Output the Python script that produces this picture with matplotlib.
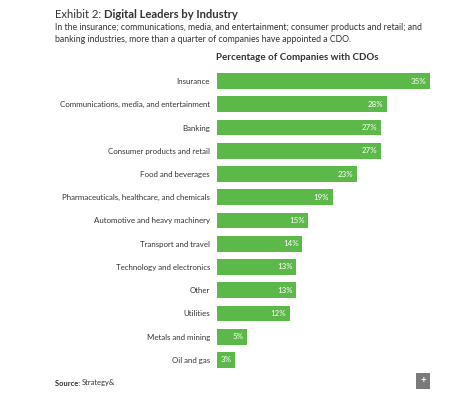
import matplotlib.pyplot as plt

plt.rcParams['font.family'] = ['Lato', 'DejaVu Sans']

industries = [
    "Insurance",
    "Communications, media, and entertainment",
    "Banking",
    "Consumer products and retail",
    "Food and beverages",
    "Pharmaceuticals, healthcare, and chemicals",
    "Automotive and heavy machinery",
    "Transport and travel",
    "Technology and electronics",
    "Other",
    "Utilities",
    "Metals and mining",
    "Oil and gas",
]
shares = [35, 28, 27, 27, 23, 19, 15, 14, 13, 13, 12, 5, 3]

GREEN = '#5cb848'
TEXT = '#333333'

W, H = 456, 393
fig = plt.figure(figsize=(W / 100, H / 100), dpi=100)
renderer = fig.canvas.get_renderer()


def fx(px):
    return px / W


def fy(py):
    return 1 - py / H


def two_part(x, y, first, second, size, first_bold=False):
    # two runs of text on one line, one of them bold
    w1 = 'bold' if first_bold else 'normal'
    w2 = 'normal' if first_bold else 'bold'
    t = fig.text(fx(x), fy(y), first, fontsize=size, color=TEXT, va='center', fontweight=w1)
    bb = t.get_window_extent(renderer=renderer)
    fig.text(bb.x1 / W, fy(y), second, fontsize=size, color=TEXT, va='center', fontweight=w2)


# header
two_part(55, 14, "Exhibit 2:\u00a0", "Digital Leaders by Industry", 8.1)
fig.text(fx(55), fy(28), "In the insurance; communications, media, and entertainment; consumer products and retail; and",
         fontsize=6.3, color=TEXT, va='center')
fig.text(fx(55), fy(40), "banking industries, more than a quarter of companies have appointed a CDO.",
         fontsize=6.3, color=TEXT, va='center')

ax = fig.add_axes([fx(217), fy(371.6), fx(430) - fx(217), (371.6 - 69.4) / H])
ypos = range(len(industries))
ax.barh(ypos, shares, height=0.68, color=GREEN)
ax.set_xlim(0, 35)
ax.set_ylim(len(industries) - 0.5, -0.5)
ax.set_yticks(list(ypos))
ax.set_yticklabels(industries, fontsize=5.7, color=TEXT)
ax.tick_params(axis='y', length=0, pad=5)
ax.set_xticks([])
for s in ax.spines.values():
    s.set_visible(False)

for i, v in enumerate(shares):
    ax.text(v - 0.6, i, f"{v}%", ha='right', va='center', color='white', fontsize=5.7)

fig.text(fx(297), fy(57), "Percentage of Companies with CDOs", ha='center', va='center',
         fontsize=7, fontweight='bold', color=TEXT)

two_part(55, 383, "Source:\u00a0", "Strategy&", 5.4, first_bold=True)

# expand button
btn = fig.add_axes([fx(416), fy(389), fx(14), 16 / H])
btn.set_facecolor('#7a7a7a')
btn.set_xticks([])
btn.set_yticks([])
for s in btn.spines.values():
    s.set_visible(False)
btn.text(0.5, 0.5, "+", color='white', ha='center', va='center', fontsize=7, fontweight='bold',
         transform=btn.transAxes)

fig.savefig('out.png', dpi=100)
